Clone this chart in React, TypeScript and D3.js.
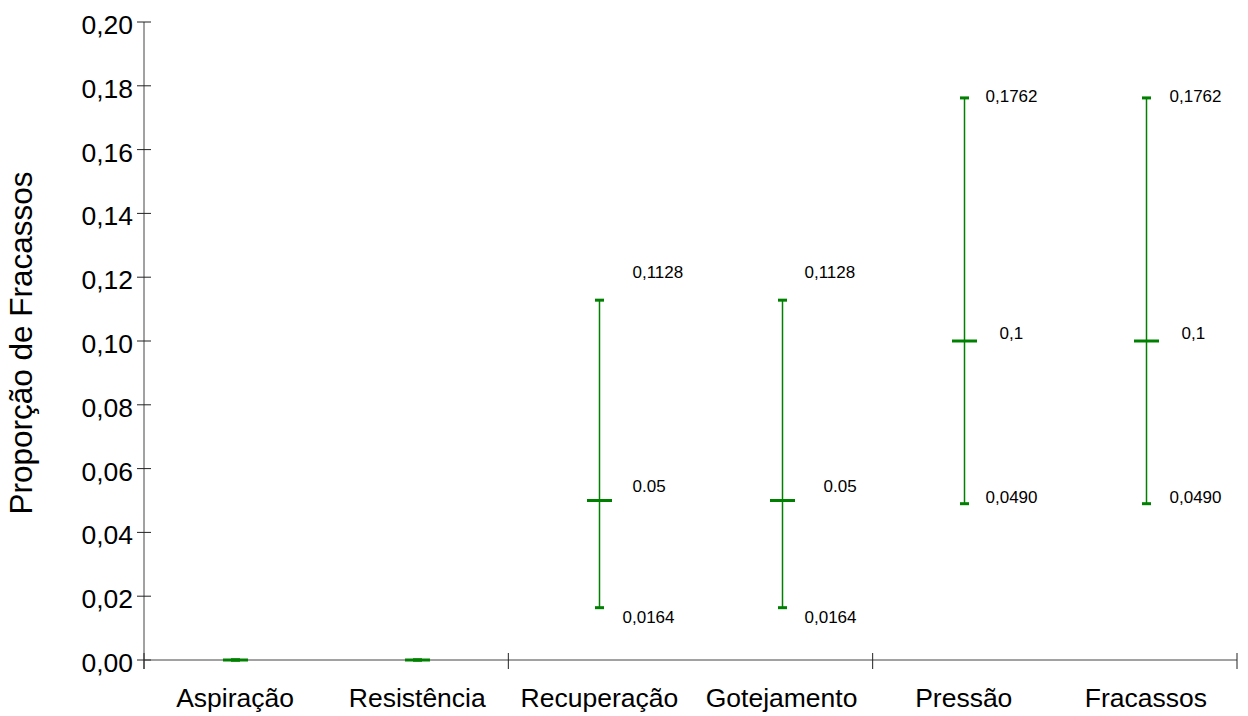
import React from "react";
import * as d3 from "d3";

// Failure proportions with confidence interval per category
const categories = ["Aspiração", "Resistência", "Recuperação", "Gotejamento", "Pressão", "Fracassos"];
const means = [0, 0, 0.05, 0.05, 0.1, 0.1];
const lowerCI = [0, 0, 0.0164, 0.0164, 0.049, 0.049];
const upperCI = [0, 0, 0.1128, 0.1128, 0.1762, 0.1762];
const upperLabels = ["", "", "0,1128", "0,1128", "0,1762", "0,1762"];
const meanLabels = ["", "", "0.05", "0.05", "0,1", "0,1"];
const lowerLabels = ["", "", "0,0164", "0,0164", "0,0490", "0,0490"];
const yTicks = [0, 0.02, 0.04, 0.06, 0.08, 0.1, 0.12, 0.14, 0.16, 0.18, 0.2];

// Label placement relative to each whisker (dx from the bar, dy from the value)
const labelOffsets = [
  { up: [0, 0], mid: [0, 0], low: [0, 0] },
  { up: [0, 0], mid: [0, 0], low: [0, 0] },
  { up: [33, -28], mid: [33, -14], low: [23, 9] },
  { up: [22, -28], mid: [41, -14], low: [22, 9] },
  { up: [21, -2], mid: [35, -8], low: [21, -7] },
  { up: [23, -2], mid: [35, -8], low: [23, -7] },
];

const W = 1248;
const H = 716;
const margin = { left: 144, right: 11, top: 22, bottom: 56 };
const GREEN = "#008000";
const FONT = "'Liberation Sans', Arial, sans-serif";

export default function App() {
  const x0 = margin.left;
  const x1 = W - margin.right;
  const yBase = H - margin.bottom;

  const x = d3.scaleBand<string>().domain(categories).range([x0, x1]).paddingInner(0).paddingOuter(0);
  const y = d3.scaleLinear().domain([0, 0.2]).range([yBase, margin.top]);

  // group separators every two categories
  const groupTicks = [0, 2, 4, 6].map((i) => x0 + i * x.bandwidth());

  const fmt = (v: number) => v.toFixed(2).replace(".", ",");

  return (
    <svg width={W} height={H} style={{ position: "absolute", left: 0, top: 0, background: "#fff" }} fontFamily={FONT}>
      {/* y axis */}
      <line x1={x0} x2={x0} y1={y(0.2)} y2={yBase + 9} stroke="#444" strokeWidth={1} />
      {yTicks.map((t) => (
        <g key={t}>
          <line x1={x0 - 7} x2={x0 + 7} y1={y(t)} y2={y(t)} stroke="#222" strokeWidth={1} />
          <text x={x0 - 11} y={y(t) + 12} textAnchor="end" fontSize={26.5} fill="#000">
            {fmt(t)}
          </text>
        </g>
      ))}
      {/* x axis */}
      <line x1={x0} x2={x1} y1={yBase} y2={yBase} stroke="#444" strokeWidth={1} />
      {groupTicks.map((gx, i) => (
        <line key={i} x1={gx} x2={gx} y1={yBase - 7} y2={yBase + 9} stroke="#222" strokeWidth={1} />
      ))}
      {categories.map((c) => (
        <text key={c} x={x(c)! + x.bandwidth() / 2} y={707} textAnchor="middle" fontSize={26.5} fill="#000">
          {c}
        </text>
      ))}
      {/* y title */}
      <text transform={`translate(32,${(y(0) + y(0.2)) / 2 + 2}) rotate(-90)`} textAnchor="middle" fontSize={31.5} fill="#000">
        Proporção de Fracassos
      </text>
      {/* confidence intervals */}
      {categories.map((c, i) => {
        const cx = Math.round(x(c)! + x.bandwidth() / 2) + 0.5;
        const off = labelOffsets[i];
        return (
          <g key={c}>
            <line x1={cx} x2={cx} y1={y(upperCI[i])} y2={y(lowerCI[i])} stroke={GREEN} strokeWidth={1.5} />
            <line x1={cx - 4.5} x2={cx + 4.5} y1={y(upperCI[i])} y2={y(upperCI[i])} stroke={GREEN} strokeWidth={3} />
            <line x1={cx - 4.5} x2={cx + 4.5} y1={y(lowerCI[i])} y2={y(lowerCI[i])} stroke={GREEN} strokeWidth={3} />
            <line x1={cx - 12.5} x2={cx + 12.5} y1={y(means[i])} y2={y(means[i])} stroke={GREEN} strokeWidth={3} />
            {upperLabels[i] && (
              <text x={cx + off.up[0]} y={y(upperCI[i]) + off.up[1]} dy="0.35em" fontSize={17} fill="#000">
                {upperLabels[i]}
              </text>
            )}
            {meanLabels[i] && (
              <text x={cx + off.mid[0]} y={y(means[i]) + off.mid[1]} dy="0.35em" fontSize={17} fill="#000">
                {meanLabels[i]}
              </text>
            )}
            {lowerLabels[i] && (
              <text x={cx + off.low[0]} y={y(lowerCI[i]) + off.low[1]} dy="0.35em" fontSize={17} fill="#000">
                {lowerLabels[i]}
              </text>
            )}
          </g>
        );
      })}
    </svg>
  );
}
